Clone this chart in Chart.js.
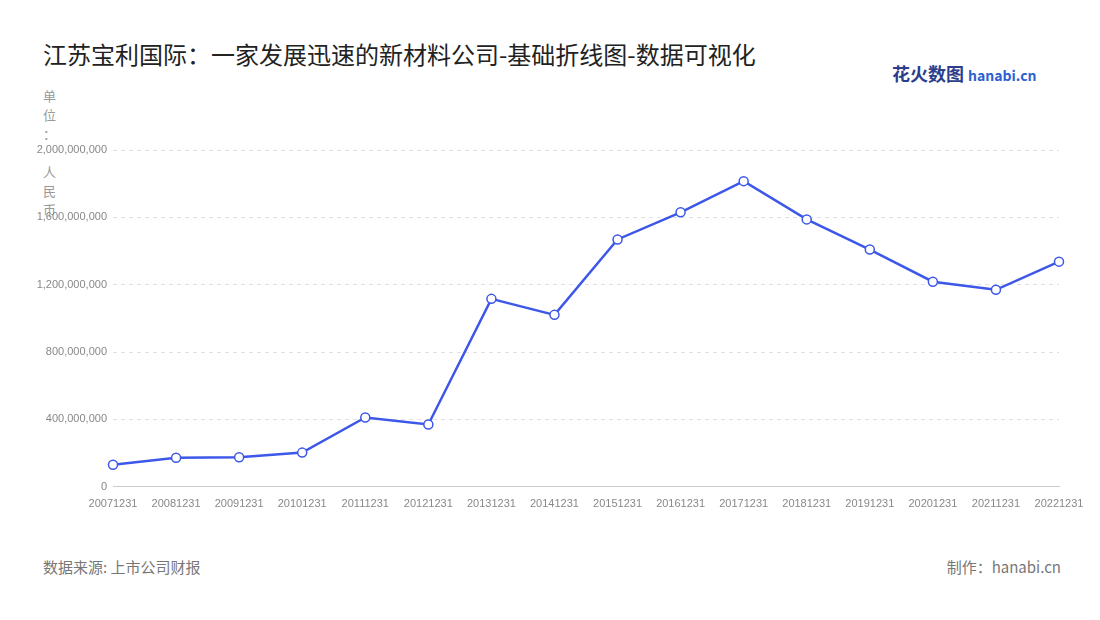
<!DOCTYPE html>
<html lang="zh">
<head>
<meta charset="UTF-8">
<title>江苏宝利国际</title>
<script src="https://cdn.jsdelivr.net/npm/chart.js"></script>
<style>
  body { margin: 0; background: #fff; font-family: "Noto Sans CJK SC", "Noto Sans", sans-serif; }
  .wrap { position: relative; width: 1100px; height: 620px; }
  h1 { position: absolute; left: 43px; top: 36px; margin: 0; font-size: 24px; font-weight: 400; color: #222; }
  .logo { position: absolute; left: 892px; top: 60px; font-size: 18px; font-weight: 700; color: #2c3e8c; }
  .logo span { color: #2f5fd0; font-size: 14px; }
  .unit { position: absolute; left: 43px; top: 86px; font-size: 13px; line-height: 19px; color: #999; }
  .src { position: absolute; left: 43px; top: 556px; font-size: 15px; color: #777; }
  .make { position: absolute; right: 39px; top: 556px; font-size: 15px; color: #777; }
  .chart { position: absolute; left: 0; top: 134px; width: 1100px; height: 380px; }
</style>
</head>
<body>
<div class="wrap">
  <h1>江苏宝利国际：一家发展迅速的新材料公司-基础折线图-数据可视化</h1>
  <div class="logo">花火数图 <span>hanabi.cn</span></div>
  <div class="unit">单<br>位<br>：<br><br>人<br>民<br>币</div>
  <div class="chart"><canvas id="line"></canvas></div>
  <div class="src">数据来源: 上市公司财报</div>
  <div class="make">制作：hanabi.cn</div>
</div>
<script>
  const years = ['20071231','20081231','20091231','20101231','20111231','20121231','20131231','20141231',
                 '20151231','20161231','20171231','20181231','20191231','20201231','20211231','20221231'];
  const revenue = [131e6, 173e6, 175e6, 203e6, 412e6, 370e6, 1116e6, 1021e6,
                   1469e6, 1630e6, 1815e6, 1588e6, 1409e6, 1218e6, 1170e6, 1337e6];
  const yTicks = [0, 400e6, 800e6, 1200e6, 1600e6, 2000e6];

  new Chart(document.getElementById('line'), {
    type: 'line',
    data: {
      labels: years,
      datasets: [{
        data: revenue,
        borderColor: '#3d57e8',
        borderWidth: 2.5,
        backgroundColor: '#fff',
        pointBorderColor: '#3d57e8',
        pointBorderWidth: 1.5,
        pointRadius: 4.5,
        tension: 0
      }]
    },
    options: {
      responsive: true,
      maintainAspectRatio: false,
      animation: false,
      layout: { padding: { left: 0, right: 41, top: 16, bottom: 0 } },
      plugins: { legend: { display: false }, tooltip: { enabled: false } },
      scales: {
        x: {
          offset: false,
          grid: { display: false },
          border: { color: '#ccc' },
          ticks: { color: '#888', font: { size: 11 }, maxRotation: 0, autoSkip: false }
        },
        y: {
          min: 0, max: 2000e6,
          afterBuildTicks: axis => { axis.ticks = yTicks.map(v => ({ value: v })); },
          afterFit: axis => { axis.width = 113; },
          grid: { color: '#e2e2e2', drawTicks: false },
          border: { display: false, dash: [4, 4] },
          ticks: { color: '#888', font: { size: 11 }, padding: 6,
                   callback: v => v.toLocaleString('en-US') }
        }
      }
    }
  });
</script>
</body>
</html>
